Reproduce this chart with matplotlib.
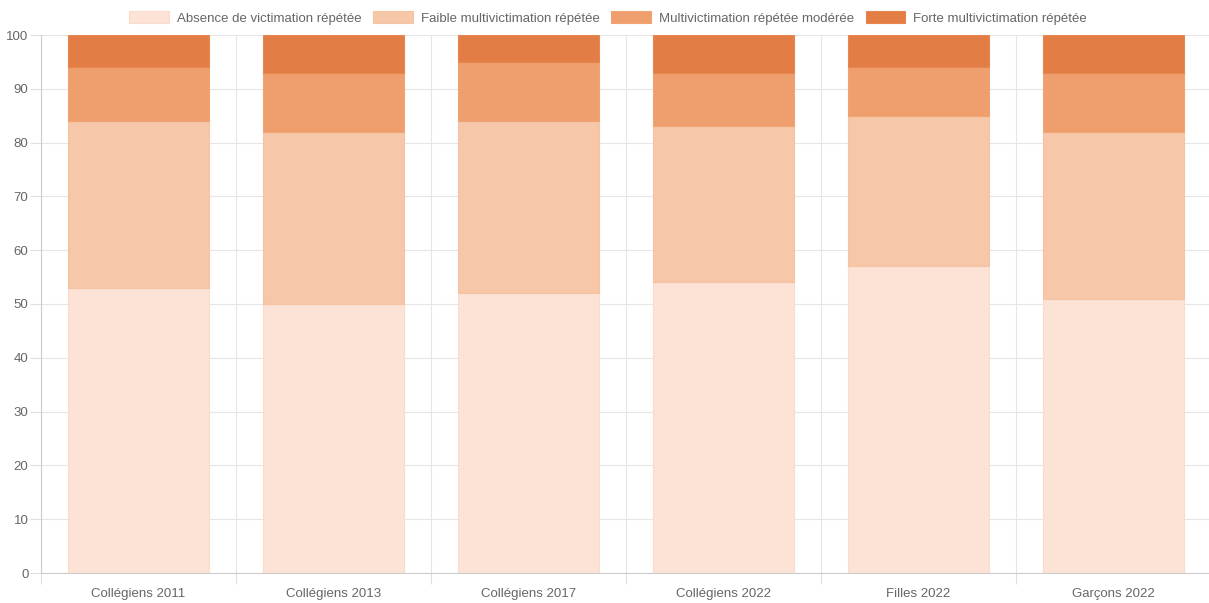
import matplotlib.pyplot as plt
import numpy as np

# Categories and stacked shares (percent)
categories = ["Collégiens 2011", "Collégiens 2013", "Collégiens 2017",
              "Collégiens 2022", "Filles 2022", "Garçons 2022"]
absence = [53, 50, 52, 54, 57, 51]
faible = [31, 32, 32, 29, 28, 31]
moderee = [10, 11, 11, 10, 9, 11]
forte = [6, 7, 5, 7, 6, 7]

series_labels = ["Absence de victimation répétée", "Faible multivictimation répétée",
                 "Multivictimation répétée modérée", "Forte multivictimation répétée"]
colors = ["#fce3d6", "#f6c8a9", "#ef9f6d", "#e27d45"]
edges = ["#fbdccb", "#f5c3a2", "#f0a474", "#e5874e"]

plt.rcParams["font.family"] = ["Liberation Sans", "DejaVu Sans"]

fig = plt.figure(figsize=(12.09, 6.03), dpi=100)
ax = fig.add_axes([41 / 1209, 30 / 603, 1170 / 1209, 538 / 603])

x = np.arange(len(categories))
bottom = np.zeros(len(categories))
handles = []
for vals, label, c, ec in zip([absence, faible, moderee, forte], series_labels, colors, edges):
    b = ax.bar(x, vals, width=0.72, bottom=bottom, color=c, edgecolor=ec,
               linewidth=0.8, label=label, zorder=2)
    handles.append(b)
    bottom += np.array(vals)

ax.set_xlim(-0.5, len(categories) - 0.5)
ax.set_ylim(0, 100)
ax.set_yticks(range(0, 101, 10))
ax.set_xticks(x)
ax.set_xticklabels(categories)
ax.set_xticks(np.arange(-0.5, len(categories)), minor=True)

ax.grid(axis="y", color="#e6e6e6", linewidth=0.8, zorder=0)
ax.grid(axis="x", which="minor", color="#e6e6e6", linewidth=0.8, zorder=0)
ax.grid(axis="x", which="major", visible=False)

ax.tick_params(axis="x", which="major", length=0, pad=11, labelsize=9.5, labelcolor="#666666")
ax.tick_params(axis="x", which="minor", length=8, color="#e0e0e0", width=0.8)
ax.tick_params(axis="y", length=8, color="#e0e0e0", width=0.8, pad=1,
               labelsize=9.5, labelcolor="#666666")

for side in ["top", "right"]:
    ax.spines[side].set_visible(False)
for side in ["left", "bottom"]:
    ax.spines[side].set_color("#cccccc")
    ax.spines[side].set_linewidth(0.8)

fig.legend(handles=handles, labels=series_labels, loc="center", bbox_to_anchor=(0.503, 0.97),
           ncol=4, frameon=False, fontsize=9.5, labelcolor="#666666",
           handlelength=3.0, handleheight=1.0, handletextpad=0.6, columnspacing=0.9)

fig.savefig("out.png", dpi=100)
